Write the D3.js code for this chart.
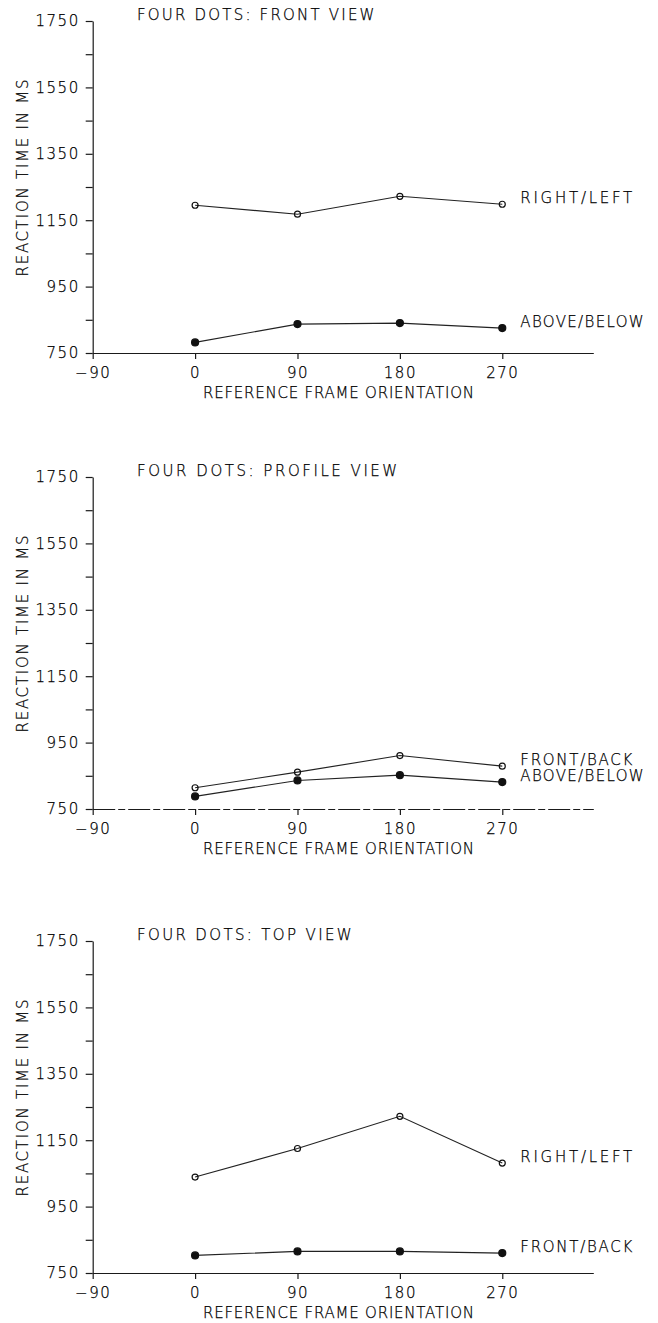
<!DOCTYPE html>
<html>
<head>
<meta charset="utf-8">
<script src="https://cdn.jsdelivr.net/npm/d3@7"></script>
<style>
  html, body { margin: 0; padding: 0; background: #fff; }
  svg { display: block; }
  text { font-family: "DejaVu Sans", sans-serif; font-weight: 200; fill: #000; stroke: #000; stroke-width: 0.25px; }
  .axis path, .axis line { stroke: #1a1a1a; stroke-width: 1.2; }
  .axis text { font-size: 15px; letter-spacing: 1.5px; }
</style>
</head>
<body>
<div id="viz"></div>
<script>
(function() {

// x categories and y ticks
var orientations = [0, 90, 180, 270];
var xTicks = [-90, 0, 90, 180, 270];
var yTicks = [750, 950, 1150, 1350, 1550, 1750];
var yMinorTicks = [850, 1050, 1250, 1450, 1650];

// reaction times (ms)
var frontRightLeft = [1195, 1168, 1222, 1198];
var frontAboveBelow = [782, 837, 840, 825];
var profileFrontBack = [814, 861, 911, 879];
var profileAboveBelow = [788, 836, 852, 831];
var topRightLeft = [1039, 1125, 1222, 1081];
var topFrontBack = [803, 815, 815, 810];

var panelTitles = ["FOUR DOTS: FRONT VIEW", "FOUR DOTS: PROFILE VIEW", "FOUR DOTS: TOP VIEW"];

var panels = [
    {title: panelTitles[0], series: [
        {name: "RIGHT/LEFT", values: frontRightLeft, filled: false},
        {name: "ABOVE/BELOW", values: frontAboveBelow, filled: true}]},
    {title: panelTitles[1], series: [
        {name: "FRONT/BACK", values: profileFrontBack, filled: false},
        {name: "ABOVE/BELOW", values: profileAboveBelow, filled: true}]},
    {title: panelTitles[2], series: [
        {name: "RIGHT/LEFT", values: topRightLeft, filled: false},
        {name: "FRONT/BACK", values: topFrontBack, filled: true}]}
];

var width = 658, height = 1323;
var bottoms = [353, 809, 1273];   // pixel row of the 750 line in each panel
var plotH = 332;

// widths measured off the scan, so letter spacing matches whatever font loads
var charW = 11.4;
function fitWidth(s) { return s.length * charW - 2; }

var svg = d3.select("#viz").append("svg")
    .attr("width", width)
    .attr("height", height);

var x = d3.scaleLinear().domain([-90, 350]).range([92.7, 593.3]);

panels.forEach(function(p, i) {
    var y = d3.scaleLinear().domain([750, 1750]).range([bottoms[i], bottoms[i] - plotH]);
    var g = svg.append("g");

    // y axis, majors labelled, minors bare
    g.append("g")
        .attr("class", "axis")
        .attr("transform", "translate(" + x(-90) + ",0)")
        .call(d3.axisLeft(y)
            .tickValues(yTicks.concat(yMinorTicks))
            .tickSize(7)
            .tickSizeOuter(0)
            .tickPadding(6)
            .tickFormat(function(d) { return yTicks.indexOf(d) >= 0 ? d : ""; }));

    // x axis
    var xa = g.append("g")
        .attr("class", "axis")
        .attr("transform", "translate(0," + y(750) + ")")
        .call(d3.axisBottom(x)
            .tickValues(xTicks)
            .tickSize(6)
            .tickSizeOuter(0)
            .tickPadding(8)
            .tickFormat(function(d) { return d < 0 ? "\u2212" + (-d) : d; }));
    if (i === 1) xa.select(".domain").style("stroke-dasharray", "22,3,7,3");

    g.append("text")
        .attr("x", 137)
        .attr("y", y(1750) - 1)
        .attr("textLength", fitWidth(p.title))
        .attr("lengthAdjust", "spacing")
        .style("font-size", "15px")
        .text(p.title);

    g.append("text")
        .attr("text-anchor", "middle")
        .attr("x", x(126))
        .attr("y", y(750) + 45)
        .attr("textLength", 271)
        .attr("lengthAdjust", "spacing")
        .style("font-size", "15px")
        .text("REFERENCE FRAME ORIENTATION");

    g.append("text")
        .attr("text-anchor", "middle")
        .attr("transform", "translate(28," + y(1277) + ") rotate(-90)")
        .attr("textLength", 197)
        .attr("lengthAdjust", "spacing")
        .style("font-size", "15px")
        .text("REACTION TIME IN MS");

    var line = d3.line()
        .x(function(d, j) { return x(orientations[j]); })
        .y(function(d) { return y(d); });

    p.series.forEach(function(s) {
        g.append("path")
            .datum(s.values)
            .attr("d", line)
            .style("fill", "none")
            .style("stroke", "#222")
            .style("stroke-width", 1.1);

        g.selectAll(null)
            .data(s.values)
            .enter().append("circle")
            .attr("cx", function(d, j) { return x(orientations[j]); })
            .attr("cy", function(d) { return y(d); })
            .attr("r", s.filled ? 3.5 : 3)
            .style("fill", s.filled ? "#111" : "none")
            .style("stroke", "#111")
            .style("stroke-width", 1.2);

        var last = s.values[s.values.length - 1];
        g.append("text")
            .attr("x", x(orientations[orientations.length - 1]) + 18)
            .attr("y", y(last) - 6 + 5)
            .attr("textLength", fitWidth(s.name))
            .attr("lengthAdjust", "spacing")
            .style("font-size", "15px")
            .text(s.name);
    });
});

})();
</script>
</body>
</html>
